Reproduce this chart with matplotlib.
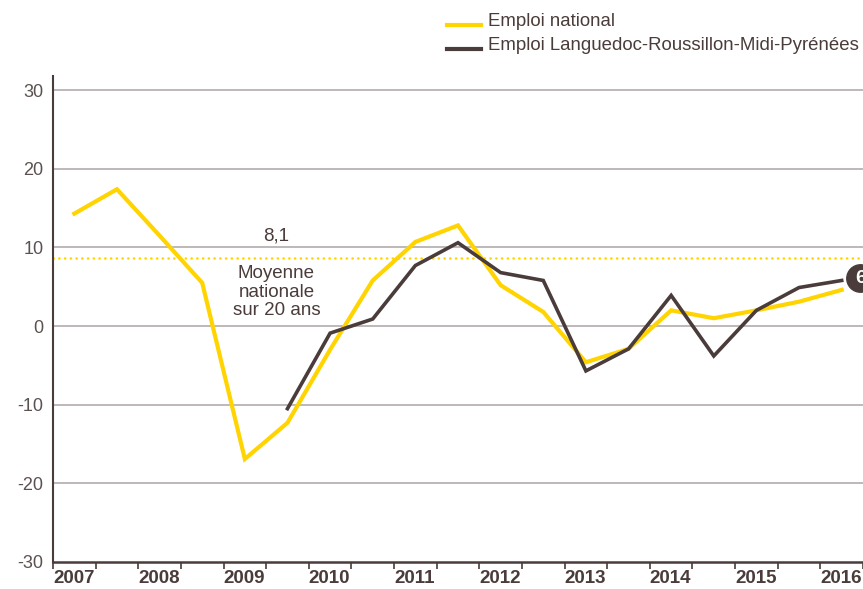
import matplotlib.pyplot as plt
from matplotlib.lines import Line2D
import numpy as np

# Evolution de l'emploi - national vs Languedoc-Roussillon-Midi-Pyrenees
years = [2007, 2008, 2009, 2010, 2011, 2012, 2013, 2014, 2015, 2016]

# points semestriels (x = annee + 0.25 + 0.5*i)
x_nat = np.arange(2007.25, 2016.5, 0.5)
national = [14.3, 17.4, 11.5, 5.5, -16.9, -12.3, -3.0, 5.8, 10.7, 12.8,
            5.2, 1.8, -4.6, -2.9, 2.0, 1.0, 2.0, 3.1, 4.6]

x_reg = np.arange(2009.75, 2016.5, 0.5)
regional = [-10.5, -0.9, 0.9, 7.7, 10.6, 6.8, 5.8, -5.7, -2.9, 3.9,
            -3.8, 2.0, 4.9, 5.8]

moyenne_label = "8,1"
moyenne_y = 8.7          # position de la ligne pointillee sur le dessin
yticks = [30, 20, 10, 0, -10, -20, -30]
last_value = "6"
legend_labels = ["Emploi national", "Emploi Languedoc-Roussillon-Midi-Pyrénées"]

yellow = '#FFD400'
brown = '#4a3c3a'
grey_txt = '#5b5150'

plt.rcParams['font.family'] = ['Liberation Sans', 'DejaVu Sans']

W, H = 863, 589
fig = plt.figure(figsize=(W / 100, H / 100), dpi=100)
ax = fig.add_axes([53 / W, 1 - 562 / H, 1 - 53 / W, (562 - 76) / H])

ax.set_xlim(2007, 2016.47)
ax.set_ylim(-30, 31.8)

# grille horizontale
for v in yticks[:-1]:
    ax.axhline(v, color='#b3abab', lw=1.2, zorder=1)

# moyenne nationale
ax.axhline(moyenne_y, color=yellow, lw=1.8, linestyle=(0, (0.1, 2.2)),
           dash_capstyle='round', zorder=2)
ax.text(2009.62, 11.4, moyenne_label, ha='center', va='center', fontsize=13.5, color=brown)
ax.text(2009.62, 4.3, "Moyenne\nnationale\nsur 20 ans", ha='center', va='center',
        fontsize=13.5, color=brown, linespacing=1.12)

ax.plot(x_nat, national, color=yellow, lw=3, solid_joinstyle='miter', zorder=3)
ax.plot(x_reg, regional, color=brown, lw=2.6, solid_joinstyle='miter', zorder=4)

# pastille derniere valeur (coupee par le bord, comme l'original)
ax.scatter([2016.46], [6.1], s=390, color=brown, zorder=5, clip_on=False)
ax.text(2016.47, 6.1, last_value, ha='center', va='center', fontsize=14,
        fontweight='bold', color='white', zorder=6, clip_on=False)

# axes
for s in ['top', 'right']:
    ax.spines[s].set_visible(False)
ax.spines['left'].set_color(brown)
ax.spines['left'].set_linewidth(1.5)
ax.spines['bottom'].set_color(brown)
ax.spines['bottom'].set_linewidth(1.8)

ax.set_yticks(yticks)
ax.set_yticklabels([str(v) for v in yticks])
ax.tick_params(axis='y', length=0, pad=7, labelsize=13, labelcolor=grey_txt)

ax.set_xticks(np.arange(2007, 2016.6, 0.5))
ax.set_xticklabels([])
ax.tick_params(axis='x', direction='out', length=5, width=1.2, color=brown)

for yr in years:
    ax.text(yr, -0.016, str(yr), transform=ax.get_xaxis_transform(), ha='left', va='top',
            fontsize=13.5, fontweight='bold', color=brown)

# legende (traits au niveau de la ligne de base)
leg_colors = [yellow, brown]
leg_widths = [3, 3]
leg_y = [25, 49]
for lab, c, lw, y in zip(legend_labels, leg_colors, leg_widths, leg_y):
    fig.add_artist(Line2D([447 / W, 481 / W], [1 - y / H, 1 - y / H], color=c, lw=lw))
    fig.text(488 / W, 1 - (y + 1) / H, lab, ha='left', va='baseline', fontsize=13.4, color=brown)

fig.savefig('out.png', dpi=100)
